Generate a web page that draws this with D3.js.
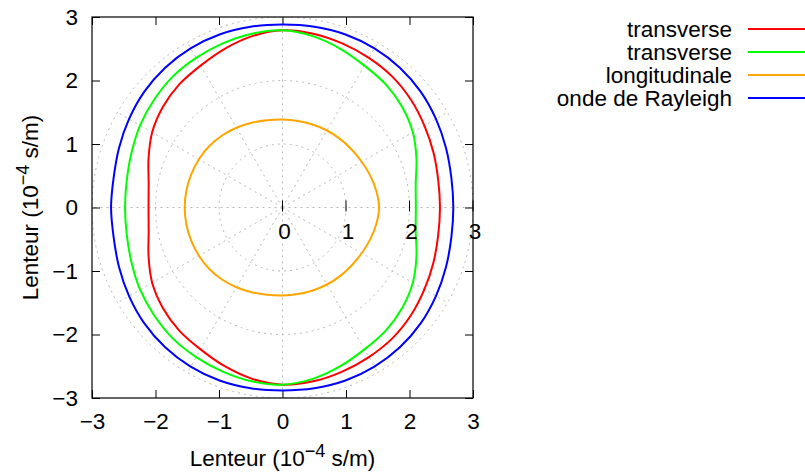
<!DOCTYPE html>
<html>
<head>
<meta charset="utf-8">
<script src="https://cdn.jsdelivr.net/npm/d3@7"></script>
<style>
  html, body { margin: 0; padding: 0; background: #fff; }
  svg text { font-family: "Liberation Sans", Arial, Helvetica, sans-serif; }
</style>
</head>
<body>
<svg id="chart" width="805" height="474"></svg>
<script>
// ---- data (polar: angle in degrees, slowness in 1e-4 s/m) ----
const angles = [0,10,20,30,40,50,60,70,80,90,100,110,120,130,140,150,160,170,
                180,190,200,210,220,230,240,250,260,270,280,290,300,310,320,330,340,350];
const transverse1 = [2.48,2.49,2.53,2.58,2.64,2.69,2.72,2.75,2.78,2.79,2.74,2.66,2.58,2.53,2.46,2.37,2.245,2.14,
                     2.11,2.14,2.245,2.37,2.46,2.53,2.58,2.66,2.74,2.79,2.78,2.75,2.72,2.69,2.64,2.58,2.53,2.49];
const transverse2 = [2.10,2.13,2.245,2.37,2.46,2.53,2.58,2.66,2.74,2.79,2.78,2.75,2.72,2.69,2.64,2.59,2.53,2.49,
                     2.48,2.49,2.53,2.59,2.64,2.69,2.72,2.75,2.78,2.79,2.74,2.66,2.58,2.53,2.46,2.37,2.245,2.13];
const longitudinale = [1.52,1.50,1.47,1.44,1.42,1.41,1.40,1.39,1.385,1.385,1.395,1.42,1.45,1.48,1.505,1.52,1.53,1.537,
                       1.54,1.537,1.53,1.52,1.505,1.48,1.45,1.42,1.395,1.385,1.385,1.39,1.40,1.41,1.42,1.44,1.47,1.50];
const rayleigh = [2.69,2.70,2.74,2.79,2.84,2.875,2.895,2.90,2.89,2.88,2.89,2.90,2.895,2.875,2.84,2.79,2.74,2.70,
                  2.70,2.70,2.74,2.79,2.84,2.875,2.895,2.90,2.89,2.88,2.89,2.90,2.895,2.875,2.84,2.79,2.74,2.70];

const seriesNames = ["transverse", "transverse", "longitudinale", "onde de Rayleigh"];
const seriesColors = ["#ff0000", "#00ff00", "#ffa500", "#0000ff"];
const seriesValues = [transverse1, transverse2, longitudinale, rayleigh];

const xTicks = [-3,-2,-1,0,1,2,3];
const yTicks = [-3,-2,-1,0,1,2,3];
const rTicks = [0,1,2,3];
const gridRadii = [1,2,3];
const spokeAngles = [0,30,60,90,120,150,180,210,240,270,300,330];
const axisTitle = "Lenteur (10";
const axisExp = "\u22124";
const axisUnit = " s/m)";

// ---- layout ----
const FS = 22.5;
const svg = d3.select("#chart");
const L = 92, R = 473, T = 17, B = 398;
const x = d3.scaleLinear().domain([-3, 3]).range([L, R]);
const y = d3.scaleLinear().domain([-3, 3]).range([B, T]);
const rPix = v => x(v) - x(0);

svg.append("defs").append("clipPath").attr("id", "plotclip")
  .append("rect").attr("x", L).attr("y", T).attr("width", R - L).attr("height", B - T);

// polar grid
const grid = svg.append("g").attr("clip-path", "url(#plotclip)")
  .attr("fill", "none").attr("stroke", "#b8b8b8").attr("stroke-width", 1)
  .attr("stroke-dasharray", "2,4");
grid.selectAll("circle").data(gridRadii).join("circle")
  .attr("cx", x(0)).attr("cy", y(0)).attr("r", d => rPix(d));
grid.selectAll("line").data(spokeAngles).join("line")
  .attr("x1", x(0)).attr("y1", y(0))
  .attr("x2", d => x(3 * Math.cos(d * Math.PI / 180)))
  .attr("y2", d => y(3 * Math.sin(d * Math.PI / 180)));
svg.append("circle").attr("cx", x(0)).attr("cy", y(0)).attr("r", 1.8).attr("fill", "#c4c4c4");

// axes (inward ticks)
const tickLen = 8;
const fmt = d3.format("");
const gx = svg.append("g").attr("transform", `translate(0,${B})`)
  .call(d3.axisBottom(x).tickValues(xTicks).tickSizeInner(-tickLen).tickSizeOuter(0).tickPadding(15).tickFormat(fmt));
const gy = svg.append("g").attr("transform", `translate(${L},0)`)
  .call(d3.axisLeft(y).tickValues(yTicks).tickSizeInner(-tickLen).tickSizeOuter(0).tickPadding(14).tickFormat(fmt));
const gxt = svg.append("g").attr("transform", `translate(0,${T})`)
  .call(d3.axisTop(x).tickValues(xTicks).tickSizeInner(-tickLen).tickSizeOuter(0).tickFormat(""));
const gyr = svg.append("g").attr("transform", `translate(${R},0)`)
  .call(d3.axisRight(y).tickValues(yTicks).tickSizeInner(-tickLen).tickSizeOuter(0).tickFormat(""));
[gx, gy, gxt, gyr].forEach(g => {
  g.select(".domain").remove();
  g.selectAll("line").attr("stroke", "#000").attr("stroke-width", 1);
  g.selectAll("text").attr("font-size", FS).attr("fill", "#000")
    .attr("font-family", "'Liberation Sans', Arial, sans-serif");
});

// curves
const line = d3.line()
  .x(d => x(d.r * Math.cos(d.a * Math.PI / 180)))
  .y(d => y(d.r * Math.sin(d.a * Math.PI / 180)))
  .curve(d3.curveCatmullRomClosed.alpha(0.5));
seriesValues.forEach((vals, i) => {
  const pts = angles.map((a, k) => ({ a: a, r: vals[k] }));
  svg.append("path").datum(pts)
    .attr("d", line)
    .attr("fill", "none")
    .attr("stroke", seriesColors[i])
    .attr("stroke-width", 2);
});

// frame
svg.append("rect").attr("x", L).attr("y", T).attr("width", R - L).attr("height", B - T)
  .attr("fill", "none").attr("stroke", "#000").attr("stroke-width", 1.2);

// polar r-axis ticks and labels
const rg = svg.append("g");
rg.selectAll("line").data(rTicks).join("line")
  .attr("x1", d => x(d)).attr("x2", d => x(d))
  .attr("y1", y(0) - 7).attr("y2", y(0) + 4)
  .attr("stroke", "#000").attr("stroke-width", 1);
rg.selectAll("text").data(rTicks).join("text")
  .attr("x", d => x(d) + 2).attr("y", y(0) + 31)
  .attr("text-anchor", "middle").attr("font-size", FS)
  .text(d => d);

// axis titles
function title(sel) {
  sel.append("tspan").text(axisTitle);
  sel.append("tspan").attr("font-size", FS * 0.8).attr("dy", -FS * 0.42).text(axisExp);
  sel.append("tspan").attr("dy", FS * 0.42).text(axisUnit);
}
svg.append("text").attr("x", (L + R) / 2).attr("y", 466)
  .attr("text-anchor", "middle").attr("font-size", FS).call(title);
svg.append("text")
  .attr("transform", `translate(38,${(T + B) / 2}) rotate(-90)`)
  .attr("text-anchor", "middle").attr("font-size", FS).call(title);

// legend
const lg = svg.append("g");
seriesNames.forEach((n, i) => {
  const yy = 29 + i * 23;
  lg.append("text").attr("x", 732).attr("y", yy).attr("dy", "0.35em")
    .attr("text-anchor", "end").attr("font-size", FS).text(n);
  lg.append("line").attr("x1", 748).attr("x2", 806).attr("y1", yy).attr("y2", yy)
    .attr("stroke", seriesColors[i]).attr("stroke-width", 2);
});
</script>
</body>
</html>
